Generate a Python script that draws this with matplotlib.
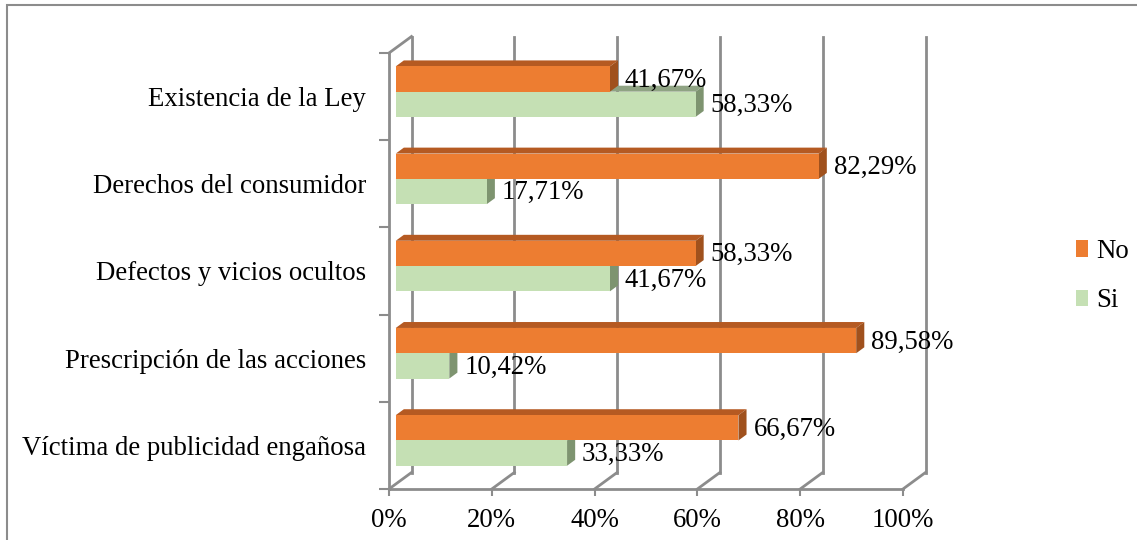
import matplotlib.pyplot as plt
from matplotlib.patches import Polygon, Patch, Rectangle
import numpy as np

plt.rcParams['font.family'] = ['Liberation Serif', 'DejaVu Serif']

# data (bottom to top)
categories = ['Víctima de publicidad engañosa', 'Prescripción de las acciones',
              'Defectos y vicios ocultos', 'Derechos del consumidor', 'Existencia de la Ley']
no_vals = [66.67, 89.58, 58.33, 82.29, 41.67]
si_vals = [33.33, 10.42, 41.67, 17.71, 58.33]
xticks = [0, 20, 40, 60, 80, 100]

W, H = 1137, 540
fs = 19.3
fig = plt.figure(figsize=(W / 100, H / 100), dpi=100)
fig.patches.append(Rectangle((7 / W, -0.1), 1.2, (H - 5) / H + 0.1, transform=fig.transFigure,
                             fill=False, edgecolor='#8c8c8c', lw=1.5))

# front plane of the pseudo 3d box
ax = fig.add_axes([389 / W, (H - 489) / H, 514 / W, 436 / H])
ax.set_xlim(0, 100)
ax.set_ylim(0, 5)

gray = '#8c8c8c'
dx = 22.5 / 5.14      # depth offset in % units
dy = 16.5 / 87.2      # depth offset in category units

for s in ['top', 'right']:
    ax.spines[s].set_visible(False)
for s in ['bottom', 'left']:
    ax.spines[s].set_color(gray)
    ax.spines[s].set_linewidth(2)

ax.set_xticks(xticks)
ax.set_xticklabels([f'{t}%' for t in xticks], fontsize=fs)
ax.tick_params(axis='x', colors=gray, length=5, width=1.5, pad=9, labelcolor='black')
ax.set_yticks(range(6))
ax.set_yticklabels([])
ax.tick_params(axis='y', which='major', colors=gray, length=7, width=1.5)
ax.set_yticks(np.arange(len(categories)) + 0.5, minor=True)
ax.set_yticklabels(categories, minor=True, fontsize=fs)
ax.tick_params(axis='y', which='minor', length=0, pad=16.5)

# back wall and floor
for t in xticks:
    ax.plot([t + dx, t + dx], [dy, 5 + dy], color=gray, lw=2, clip_on=False, zorder=1)
    ax.plot([t, t + dx], [0, dy], color=gray, lw=2, clip_on=False, zorder=1)
ax.plot([0, dx], [5, 5 + dy], color=gray, lw=2, clip_on=False, zorder=1)

# bars
w = 0.29
d0, d1 = 0.30, 0.36
colors = {'no': ('#ed7d31', '#b55a22', '#a0511d'), 'si': ('#c5e0b4', '#8fa383', '#7e9470')}


def bar3d(v, base, cols):
    x0 = d0 * dx
    y0 = base + d0 * dy
    ex, ey = d1 * dx, d1 * dy
    front, top, side = cols
    ax.add_patch(Polygon([(x0, y0 + w), (x0 + v, y0 + w), (x0 + v + ex, y0 + w + ey), (x0 + ex, y0 + w + ey)],
                         facecolor=top, edgecolor='none', zorder=3, clip_on=False))
    ax.add_patch(Polygon([(x0 + v, y0), (x0 + v + ex, y0 + ey), (x0 + v + ex, y0 + w + ey), (x0 + v, y0 + w)],
                         facecolor=side, edgecolor='none', zorder=3, clip_on=False))
    ax.add_patch(Rectangle((x0, y0), v, w, facecolor=front, edgecolor='none', zorder=3, clip_on=False))
    lab = f'{v:.2f}'.replace('.', ',') + '%'
    ax.annotate(lab, (x0 + v + ex, y0 + w / 2), xytext=(5, -1), textcoords='offset points',
                ha='left', va='center', fontsize=fs, zorder=5)


for i in range(len(categories)):
    c = i + 0.5
    bar3d(si_vals[i], c - w, colors['si'])
    bar3d(no_vals[i], c, colors['no'])

handles = [Patch(facecolor=colors['no'][0], label='No'), Patch(facecolor=colors['si'][0], label='Si')]
fig.legend(handles=handles, loc='center left', bbox_to_anchor=(1052 / W, 1 - 276 / H), frameon=False,
           fontsize=fs, handlelength=0.45, handleheight=0.55, handletextpad=0.3, labelspacing=0.9)

fig.savefig('out.png', dpi=100)
